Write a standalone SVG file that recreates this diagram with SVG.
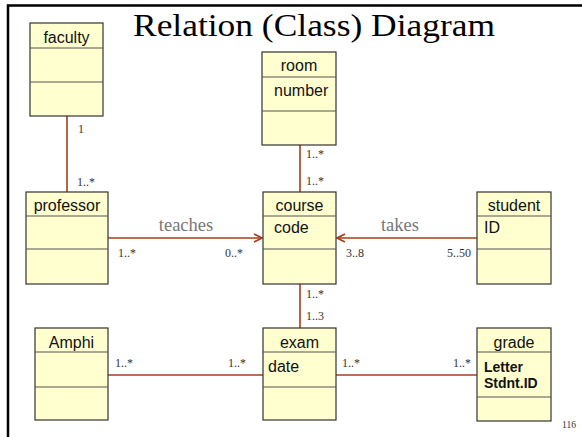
<svg xmlns="http://www.w3.org/2000/svg" width="582" height="437" viewBox="0 0 582 437">
<defs>
<style>
.box{fill:#FFFFD0;stroke:#333;stroke-width:1.2}
.sep{stroke:#555;stroke-width:1.2}
.nm{font-family:"Liberation Sans",Arial,sans-serif;font-size:16px;fill:#111;text-anchor:middle}
.at{font-family:"Liberation Sans",Arial,sans-serif;font-size:16px;fill:#111}
.atb{font-family:"Liberation Sans",Arial,sans-serif;font-size:14px;font-weight:bold;fill:#111}
.conn{stroke:#A3401A;stroke-width:1.6;fill:none}
.mul{font-family:"Liberation Serif","Times New Roman",serif;font-size:12px;fill:#333}
.lbl{font-family:"Liberation Serif","Times New Roman",serif;font-size:18.5px;fill:#777;text-anchor:middle}
</style>
<marker id="arr" viewBox="0 0 10 10" refX="9" refY="5" markerWidth="10" markerHeight="10" markerUnits="userSpaceOnUse" orient="auto">
<path d="M1,1 L9,5 L1,9" fill="none" stroke="#A3401A" stroke-width="1.6"/>
</marker>
</defs>
<rect width="582" height="437" fill="#fff"/>
<path d="M8,437 V5.5 H582" fill="none" stroke="#000" stroke-width="2.5"/>
<text x="133" y="36" font-family="'Liberation Serif','Times New Roman',serif" font-size="31" textLength="362" lengthAdjust="spacingAndGlyphs" fill="#000">Relation (Class) Diagram</text>
<g id="connectors">
<line class="conn" x1="67" y1="116" x2="67" y2="192"/>
<line class="conn" x1="300" y1="145" x2="300" y2="192"/>
<line class="conn" x1="300" y1="284" x2="300" y2="328"/>
<line class="conn" x1="108" y1="238" x2="262" y2="238" marker-end="url(#arr)"/>
<line class="conn" x1="477" y1="238" x2="337" y2="238" marker-end="url(#arr)"/>
<line class="conn" x1="108" y1="375" x2="263" y2="375"/>
<line class="conn" x1="336" y1="375" x2="477" y2="375"/>
<text class="mul" x="78" y="133">1</text>
<text class="mul" x="77" y="186">1..*</text>
<text class="mul" x="306" y="158">1..*</text>
<text class="mul" x="306" y="185">1..*</text>
<text class="mul" x="306" y="298">1..*</text>
<text class="mul" x="306" y="320">1..3</text>
<text class="lbl" x="186" y="231">teaches</text>
<text class="mul" x="118" y="257">1..*</text>
<text class="mul" x="225" y="257">0..*</text>
<text class="lbl" x="400" y="231">takes</text>
<text class="mul" x="346" y="257">3..8</text>
<text class="mul" x="447" y="257">5..50</text>
<text class="mul" x="115" y="367">1..*</text>
<text class="mul" x="228" y="367">1..*</text>
<text class="mul" x="342" y="367">1..*</text>
<text class="mul" x="453" y="367">1..*</text>
</g>
<g id="faculty">
<rect class="box" x="30" y="23" width="73" height="93"/>
<line class="sep" x1="30" y1="48" x2="103" y2="48"/>
<line class="sep" x1="30" y1="82" x2="103" y2="82"/>
<text class="nm" x="66.5" y="43">faculty</text>
</g>
<g id="room">
<rect class="box" x="262" y="52" width="74" height="93"/>
<line class="sep" x1="262" y1="77" x2="336" y2="77"/>
<line class="sep" x1="262" y1="111" x2="336" y2="111"/>
<text class="nm" x="299" y="71">room</text>
<text class="at" x="274" y="96">number</text>
</g>
<g id="professor">
<rect class="box" x="26" y="192" width="82" height="92"/>
<line class="sep" x1="26" y1="216" x2="108" y2="216"/>
<line class="sep" x1="26" y1="249" x2="108" y2="249"/>
<text class="nm" x="67" y="211">professor</text>
</g>
<g id="course">
<rect class="box" x="263" y="192" width="73" height="92"/>
<line class="sep" x1="263" y1="216" x2="336" y2="216"/>
<line class="sep" x1="263" y1="249" x2="336" y2="249"/>
<text class="nm" x="299.5" y="211">course</text>
<text class="at" x="274" y="233">code</text>
</g>
<g id="student">
<rect class="box" x="477" y="192" width="74" height="92"/>
<line class="sep" x1="477" y1="216" x2="551" y2="216"/>
<line class="sep" x1="477" y1="249" x2="551" y2="249"/>
<text class="nm" x="514" y="211">student</text>
<text class="at" x="484" y="233">ID</text>
</g>
<g id="Amphi">
<rect class="box" x="35" y="328" width="73" height="92"/>
<line class="sep" x1="35" y1="352" x2="108" y2="352"/>
<line class="sep" x1="35" y1="387" x2="108" y2="387"/>
<text class="nm" x="71.5" y="348">Amphi</text>
</g>
<g id="exam">
<rect class="box" x="263" y="328" width="73" height="92"/>
<line class="sep" x1="263" y1="352" x2="336" y2="352"/>
<line class="sep" x1="263" y1="387" x2="336" y2="387"/>
<text class="nm" x="299.5" y="348">exam</text>
<text class="at" x="268" y="372">date</text>
</g>
<g id="grade">
<rect class="box" x="477" y="328" width="74" height="93"/>
<line class="sep" x1="477" y1="352" x2="551" y2="352"/>
<line class="sep" x1="477" y1="397" x2="551" y2="397"/>
<text class="nm" x="514" y="348">grade</text>
<text class="atb" x="484" y="372">Letter</text>
<text class="atb" x="484" y="388">Stdnt.ID</text>
</g>
<text x="562" y="428" font-family="'Liberation Serif','Times New Roman',serif" font-size="9.5" fill="#333">116</text>
</svg>
